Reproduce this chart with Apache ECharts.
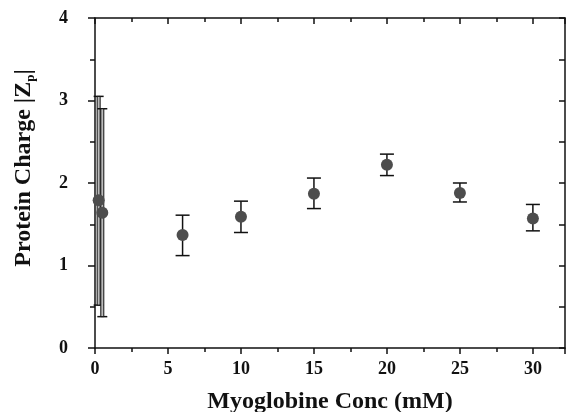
<!DOCTYPE html>
<html>
<head>
<meta charset="utf-8">
<script src="https://cdn.jsdelivr.net/npm/echarts@6/dist/echarts.min.js"></script>
<style>
  html, body { margin: 0; padding: 0; background: #fff; }
  #chart { width: 568px; height: 412px; }
</style>
</head>
<body>
<div id="chart"></div>
<script>
const conc = [0.25, 0.5, 6, 10, 15, 20, 25, 30];
const charge = [1.79, 1.64, 1.37, 1.59, 1.87, 2.22, 1.88, 1.57];
const upper = [3.05, 2.90, 1.61, 1.78, 2.06, 2.35, 2.00, 1.74];
const lower = [0.52, 0.38, 1.12, 1.40, 1.69, 2.09, 1.77, 1.42];

const font = "'Liberation Serif', 'DejaVu Serif', serif";
const chart = echarts.init(document.getElementById("chart"));

const errData = conc.map((x, i) => [x, lower[i], upper[i], i]);

chart.setOption({
  animation: false,
  grid: { left: 95, right: 3, top: 18, bottom: 64, outerBoundsMode: "none", containLabel: false },
  xAxis: [
    {
      type: "value", min: 0, max: 32.2, interval: 5,
      name: "Myoglobine Conc (mM)", nameLocation: "middle", nameGap: 42,
      nameTextStyle: { fontFamily: font, fontWeight: "bold", fontSize: 24, color: "#111" },
      axisLine: { onZero: false, lineStyle: { color: "#111", width: 1.5 } },
      axisTick: { inside: false, length: 6, lineStyle: { color: "#111", width: 1.5 } },
      minorTick: { show: true, splitNumber: 2, length: 4, lineStyle: { color: "#111", width: 1.5 } },
      axisLabel: { fontFamily: font, fontWeight: "bold", fontSize: 18, color: "#111", margin: 12, showMaxLabel: false },
      splitLine: { show: false }
    },
    {
      type: "value", position: "top", min: 0, max: 32.2, interval: 5,
      axisLine: { onZero: false, lineStyle: { color: "#111", width: 1.5 } },
      axisTick: { inside: true, length: 6, lineStyle: { color: "#111", width: 1.5 } },
      minorTick: { show: true, splitNumber: 2, length: 4, lineStyle: { color: "#111", width: 1.5 } },
      axisLabel: { show: false },
      splitLine: { show: false }
    }
  ],
  yAxis: [
    {
      type: "value", min: 0, max: 4, interval: 1,
      name: "Protein Charge |{z|Z}{p|p}|", nameLocation: "middle", nameRotate: 90, nameGap: 58,
      nameTextStyle: {
        fontFamily: font, fontWeight: "bold", fontSize: 24, color: "#111",
        padding: [0, 0, 0, 30],
        rich: {
          z: { fontFamily: font, fontWeight: "bold", fontSize: 24, color: "#111" },
          p: { fontFamily: font, fontWeight: "bold", fontSize: 13, color: "#111", padding: [14, 0, 0, 0] }
        }
      },
      axisLine: { onZero: false, lineStyle: { color: "#111", width: 1.5 } },
      axisTick: { inside: false, length: 7, lineStyle: { color: "#111", width: 1.5 } },
      minorTick: { show: true, splitNumber: 2, length: 5, lineStyle: { color: "#111", width: 1.5 } },
      axisLabel: { fontFamily: font, fontWeight: "bold", fontSize: 18, color: "#111", margin: 27 },
      splitLine: { show: false }
    },
    {
      type: "value", position: "right", min: 0, max: 4, interval: 0.5,
      axisLine: { onZero: false, lineStyle: { color: "#111", width: 1.5 } },
      axisTick: { inside: true, length: 6, lineStyle: { color: "#111", width: 1.5 } },
      axisLabel: { show: false },
      splitLine: { show: false }
    }
  ],
  series: [
    {
      type: "custom",
      xAxisIndex: 0, yAxisIndex: 0,
      data: errData,
      z: 2,
      renderItem: function (params, api) {
        const x = api.value(0);
        const lo = api.coord([x, api.value(1)]);
        const hi = api.coord([x, api.value(2)]);
        const wide = api.value(3) < 2;
        const cap = wide ? 5 : 7;
        const style = { stroke: "#111", lineWidth: 1.5, fill: "none" };
        const children = [
          { type: "line", shape: { x1: hi[0] - cap, y1: hi[1], x2: hi[0] + cap, y2: hi[1] }, style: style },
          { type: "line", shape: { x1: lo[0] - cap, y1: lo[1], x2: lo[0] + cap, y2: lo[1] }, style: style }
        ];
        if (wide) {
          children.push({
            type: "rect",
            shape: { x: hi[0] - 1.5, y: hi[1], width: 3, height: lo[1] - hi[1] },
            style: { stroke: "#111", lineWidth: 1, fill: "#bbb" }
          });
        } else {
          children.push({ type: "line", shape: { x1: hi[0], y1: hi[1], x2: lo[0], y2: lo[1] }, style: style });
        }
        return { type: "group", children: children };
      }
    },
    {
      type: "scatter",
      xAxisIndex: 0, yAxisIndex: 0,
      data: conc.map((x, i) => [x, charge[i]]),
      symbol: "circle",
      symbolSize: 12,
      itemStyle: { color: "#4d4d4d", opacity: 1 },
      z: 3
    }
  ]
});
</script>
</body>
</html>
